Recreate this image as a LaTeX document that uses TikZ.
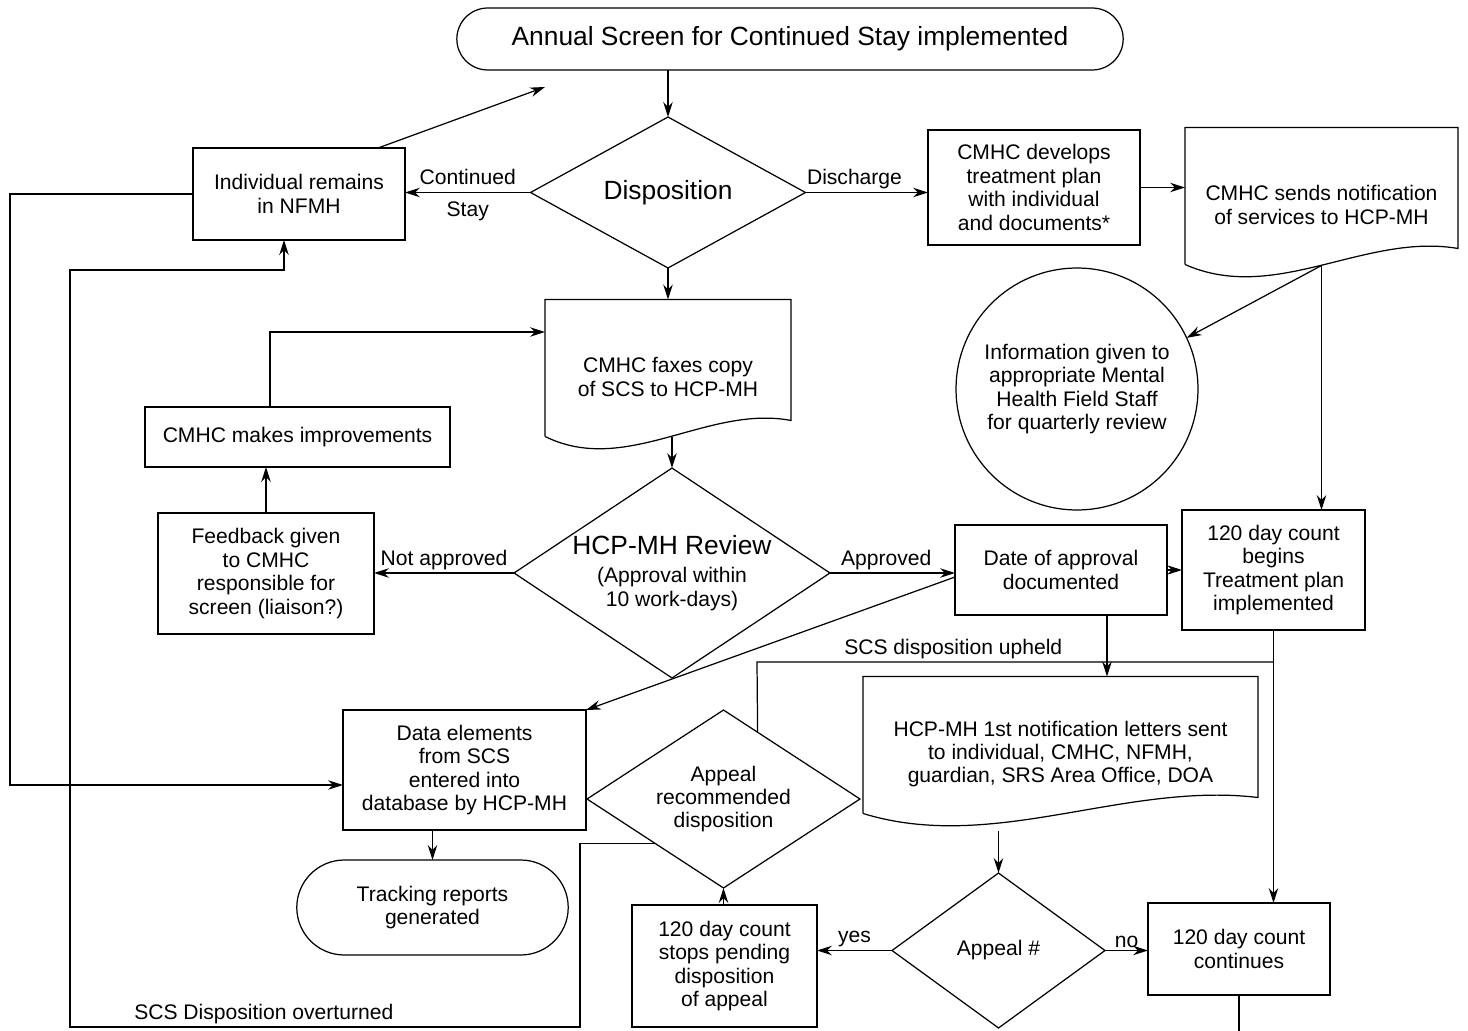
\documentclass[tikz,border=0pt]{standalone}
\usepackage{fontspec}
\setmainfont{Liberation Sans}
\usetikzlibrary{
    positioning,
    calc,
    shapes.geometric,
    shapes.misc,
    arrows.meta
    }

\begin{document}
\begin{tikzpicture}[x=0.02cm, y=-0.02cm]
\tikzset{box/.style =
        {
            rectangle,
            draw,
            line width=0.7pt,
            align=center,
            inner sep=1pt,
            outer sep=0pt,
            font=\fontsize{12}{13.3}\selectfont
        }
}

\tikzset{docshape/.style =
        {
            box,
            draw=none,
            minimum height=3.1cm
        }
}

\tikzset{term/.style = { box, rounded rectangle } }

\tikzset{decision/.style = { box, diamond, inner sep=0pt } }

\tikzset{bubble/.style =
        {
            box,
            circle,
            inner sep=0pt,
            minimum size=4.84cm
        }
}

\tikzset{big/.style = { font=\fontsize{15}{18}\selectfont } }

\tikzset{wire/.style = { line width=0.7pt } }

\tikzset{flow/.style =
        {
            wire,
            -{Stealth[length=3mm, width=1.9mm, inset=1mm]}
        }
}

\tikzset{tag/.style = { inner sep=1.5pt, font=\fontsize{12}{13.3}\selectfont } }

\useasboundingbox (0,0) rectangle (1468,1031);

% terminators, decisions, circle
\node[term, big, minimum width=13.4cm, minimum height=1.24cm] (title) at (790,39) {Annual Screen for Continued Stay implemented};
\node[term, minimum width=5.5cm, minimum height=1.9cm] (track) at (432.5,907.5) {Tracking reports\\generated};
\node[decision, big, aspect=1.82, minimum width=5.5cm, minimum height=3.02cm] (disp) at (668,192.5) {Disposition};
\node[decision, aspect=1.5, minimum width=6.32cm, minimum height=4.2cm] (review) at (672,573) {{\fontsize{15}{18}\selectfont HCP-MH Review}\\[2.6pt](Approval within\\10 work-days)};
\node[decision, aspect=1.53, minimum width=5.46cm, minimum height=3.56cm] (apdisp) at (723.5,799) {Appeal\\recommended\\disposition};
\node[decision, aspect=1.37, minimum width=4.26cm, minimum height=3.1cm] (apnum) at (998.5,950.5) {Appeal \#};
\node[bubble] (info) at (1077,389) {Information given to\\appropriate Mental\\Health Field Staff\\for quarterly review};

% process boxes
\foreach \name/\x/\y/\w/\h/\txt in
    {indiv/299/194/4.24/1.84/{Individual remains\\in NFMH},
        develop/1034/187.5/4.24/2.3/{CMHC develops\\treatment plan\\with individual\\and documents*},
        improve/297.5/437/6.1/1.2/{CMHC makes improvements},
        feedback/266/573.5/4.32/2.42/{Feedback given\\to CMHC\\responsible for\\screen (liaison?)},
        dateapp/1061/570/4.24/1.8/{Date of approval\\documented},
        begins/1273.5/570/3.66/2.4/{120 day count\\begins\\Treatment plan\\implemented},
        data/464.5/770/4.86/2.4/{Data elements\\from SCS\\entered into\\database by HCP-MH},
        stops/724.5/966/3.7/2.44/{120 day count\\stops pending\\disposition\\of appeal},
        contin/1239/949/3.64/1.84/{120 day count\\continues}}
\node[box, minimum width=\w cm, minimum height=\h cm] (\name) at (\x,\y) {\txt};

% documents with wavy bottom
\foreach \name/\x/\y/\w/\txt in
    {fax/668/377/4.92/{CMHC faxes copy\\of SCS to HCP-MH},
        sends/1321.5/205/5.46/{CMHC sends notification\\of services to HCP-MH},
        letters/1060.5/754/7.9/{HCP-MH 1st notification letters sent\\to individual, CMHC, NFMH,\\guardian, SRS Area Office, DOA}}
    {
        \node[docshape, minimum width=\w cm] (\name) at (\x,\y) {\txt};
        \draw[wire] ($(\name.south west)+(0,-18)$) -- (\name.north west) -- (\name.north east) -- ($(\name.south east)+(0,-34)$)
        .. controls ($(\name.south west)!0.66!(\name.south east)+(0,-50)$) and ($(\name.south west)!0.33!(\name.south east)+(0,22)$) .. ($(\name.south west)+(0,-18)$);
    }

\coordinate (faxout) at ($(fax.south)+(0,-17)$);
\coordinate (sendsout) at ($(sends.south)+(0,-17)$);
\coordinate (back) at (545,87);
\coordinate (lft) at (10,785);
\coordinate (ovr1) at (580,1027);
\coordinate (ovr2) at (70,270);
\coordinate (upl) at (757,662);
\coordinate (offbot) at (1239,1031);

\draw[flow] (disp.north |- title.south) -- (disp.north);
\draw[flow] (disp.west) -- node[tag, above=2.5pt] {Continued} node[tag, below=3.5pt] {Stay} (disp.west -| indiv.east);
\draw[flow] (disp.east) -- node[tag, above, pos=0.4] {Discharge} (disp.east -| develop.west);
\draw[flow] (develop.east) -- (develop.east -| sends.west);
\draw[flow] ([xshift=1.58cm]indiv.north) -- (back);
\draw[flow] (indiv.west) -| (lft) -- (lft -| data.west);
\draw[flow] (apdisp.south west) -| (ovr1) -- node[tag, above, pos=0.62] {SCS Disposition overturned} (ovr1 -| ovr2) -- (ovr2) -| ([xshift=-0.3cm]indiv.south);

\draw[flow] (disp.south) -- (disp.south |- fax.north);
\draw[flow] ([xshift=-0.55cm]improve.north) |- ([yshift=0.9cm]fax.west);
\draw[flow] (feedback.north) -- (feedback.north |- improve.south);
\draw[flow] (faxout -| review.north) -- (review.north);
\draw[flow] (review.west) -- node[tag, above] {Not approved} (review.west -| feedback.east);
\draw[flow] (review.east) -- node[tag, above, pos=0.45] {Approved} (review.east -| dateapp.west);
\draw[flow] (dateapp.east) -- (begins.west);
\draw[flow] ([yshift=-0.14cm]dateapp.west) -- (data.north east);

\draw[flow] (sendsout) -- (info.25);
\draw[flow] (sendsout) -- (sendsout |- begins.north);

\draw[flow] ([xshift=0.92cm]dateapp.south) -- ([xshift=0.92cm]dateapp.south |- letters.north);
\draw[wire] ($(apdisp.north)!0.25!(apdisp.east)$) -- (upl) -- node[tag, above, pos=0.38] {SCS disposition upheld} (upl -| begins.south);
\draw[flow] (begins.south) -- (begins.south |- contin.north);
\draw[flow] (apnum.north |- letters.south) -- (apnum.north);
\draw[flow] (apnum.west) -- node[tag, above] {yes} (apnum.west -| stops.east);
\draw[flow] (apnum.east) -- node[tag, above] {no} (apnum.east -| contin.west);
\draw[flow] (apdisp.south |- stops.north) -- (apdisp.south);
\draw[flow] (track.north |- data.south) -- (track.north);
\draw[wire] (contin.south) -- (offbot);

\end{tikzpicture}
\end{document}
